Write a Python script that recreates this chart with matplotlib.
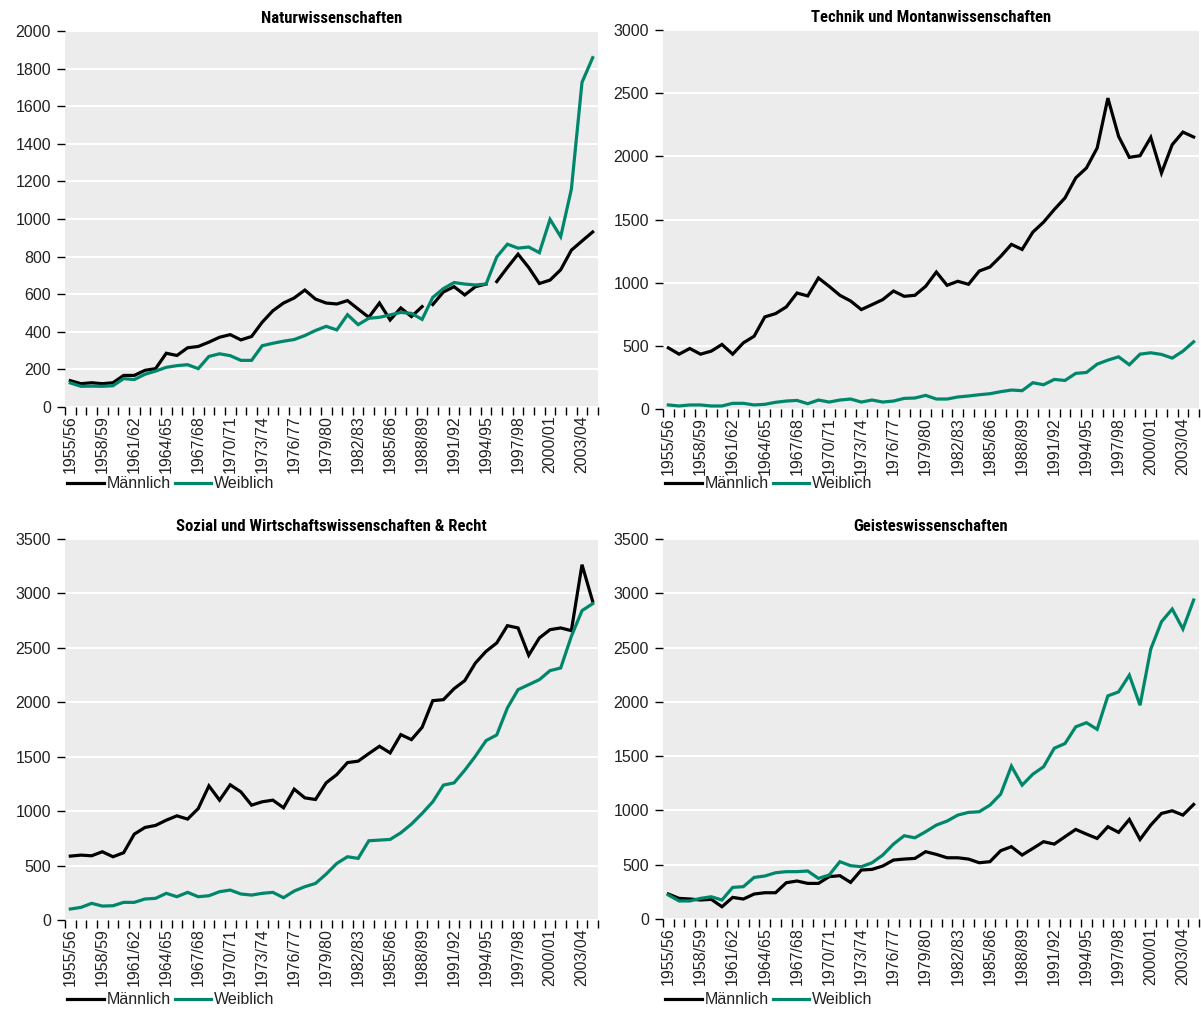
import numpy as np
import matplotlib.pyplot as plt
from matplotlib import font_manager

# Studienabschlüsse nach Studienrichtung und Geschlecht, 1955/56 bis 2004/05
years = [f"{y}/{str(y + 1)[-2:]}" for y in range(1955, 2005)]

nat_m = [140, 124, 129, 124, 129, 168, 168, 195, 204, 286,
         274, 315, 322, 345, 371, 385, 357, 375, 451, 512,
         553, 580, 622, 574, 553, 548, 566, 521, 477, 553,
         463, 527, 481, 534, 545, 612, 640, 596, 640, 654,
         667, 742, 813, 742, 657, 675, 730, 834, 883, 931]
nat_w = [128, 110, 111, 110, 113, 151, 146, 174, 191, 211,
         220, 225, 204, 269, 283, 273, 248, 248, 326, 339,
         350, 359, 380, 407, 429, 410, 491, 438, 472, 477,
         490, 503, 498, 466, 583, 630, 662, 654, 649, 654,
         798, 866, 845, 851, 821, 998, 906, 1158, 1727, 1858]
# Männlich-Reihe ist an zwei Stellen unterbrochen (nach 1988/89 und 1994/95)
nat_m_breaks = [34, 40]

tech_m = [484, 434, 479, 434, 458, 511, 434, 524, 576, 729,
          755, 808, 918, 895, 1037, 971, 900, 855, 787, 826,
          866, 934, 892, 900, 971, 1084, 979, 1011, 987, 1092,
          1124, 1208, 1303, 1263, 1400, 1479, 1579, 1671, 1829, 1908,
          2066, 2461, 2158, 1992, 2005, 2150, 1868, 2092, 2192, 2153]
tech_w = [32, 24, 32, 32, 24, 24, 45, 45, 32, 37,
          53, 63, 68, 42, 71, 55, 71, 79, 55, 71,
          55, 63, 84, 87, 108, 79, 79, 95, 103, 113,
          121, 137, 150, 145, 208, 192, 234, 226, 282, 289,
          355, 387, 413, 350, 434, 445, 432, 403, 458, 532]

soz_m = [587, 596, 590, 627, 581, 618, 789, 850, 869, 917,
         957, 927, 1024, 1232, 1101, 1242, 1177, 1055, 1086, 1101,
         1031, 1202, 1122, 1107, 1260, 1336, 1446, 1459, 1529, 1596,
         1535, 1703, 1657, 1770, 2015, 2024, 2125, 2199, 2361, 2468,
         2545, 2704, 2683, 2432, 2591, 2667, 2683, 2658, 3264, 2927]
soz_w = [101, 116, 153, 128, 131, 162, 162, 193, 199, 245,
         214, 254, 214, 223, 260, 275, 239, 229, 245, 254,
         205, 266, 306, 336, 422, 520, 581, 566, 728, 734,
         740, 801, 881, 979, 1086, 1239, 1260, 1376, 1505, 1648,
         1700, 1948, 2116, 2162, 2208, 2291, 2315, 2606, 2842, 2906]

geist_m = [230, 190, 184, 175, 181, 113, 199, 184, 230, 242,
           242, 334, 350, 328, 328, 390, 399, 337, 451, 457,
           488, 543, 552, 558, 620, 595, 564, 564, 552, 518,
           528, 629, 666, 589, 650, 712, 690, 758, 825, 782,
           742, 850, 798, 917, 733, 865, 972, 997, 957, 1055]
geist_w = [221, 166, 166, 190, 205, 175, 291, 298, 383, 396,
           426, 436, 436, 442, 374, 405, 528, 491, 482, 518,
           589, 690, 767, 748, 804, 865, 902, 957, 982, 988,
           1049, 1150, 1408, 1233, 1334, 1402, 1573, 1616, 1770, 1808,
           1747, 2055, 2092, 2246, 1969, 2486, 2738, 2855, 2671, 2938]

BG = "#ebeceb"
GREEN = "#00876b"
TEXT = "#222222"
FS = 11.5

# schmale Schrift für die Überschriften, falls vorhanden
installed = {f.name for f in font_manager.fontManager.ttflist}
narrow = [n for n in ("Liberation Sans Narrow", "Roboto Condensed",
                      "DejaVu Sans Condensed") if n in installed]
if narrow:
    TITLE_KW = dict(family=[narrow[0], "DejaVu Sans"], fontsize=12)
else:
    TITLE_KW = dict(family=["Liberation Sans", "DejaVu Sans"], fontsize=10)

plt.rcParams["font.family"] = ["Liberation Sans", "DejaVu Sans"]
plt.rcParams["font.size"] = FS

W, H = 1201, 1010
fig = plt.figure(figsize=(W / 100, H / 100), dpi=100)


def px_axes(x0, x1, ytop, ybot):
    return fig.add_axes([x0 / W, 1 - ybot / H, (x1 - x0) / W, (ybot - ytop) / H])


def draw_panel(ax, title, male, female, ymax, ystep, legend_y, breaks=()):
    n = len(years)
    x = np.arange(n)
    ax.set_facecolor(BG)
    for s in ax.spines.values():
        s.set_visible(False)

    pieces = np.split(np.arange(n), list(breaks))
    for k, idx in enumerate(pieces):
        ax.plot(x[idx], np.asarray(male)[idx], color="black", lw=2.3,
                solid_joinstyle="miter", label="Männlich" if k == 0 else None, zorder=3)
    ax.plot(x, female, color=GREEN, lw=2.3, solid_joinstyle="miter",
            label="Weiblich", zorder=3)

    ax.set_xlim(-0.5, n - 0.5)
    ax.set_ylim(0, ymax)
    yt = np.arange(0, ymax + 1, ystep)
    ax.set_yticks(yt)
    ax.set_yticklabels([str(v) for v in yt], color=TEXT)
    ax.yaxis.grid(True, color="white", lw=1.4)
    ax.set_axisbelow(True)
    ax.tick_params(axis="y", length=6, width=1, color="black", pad=4)

    # Teilstriche an den Kategoriegrenzen, Beschriftung jede dritte Kategorie
    ax.set_xticks(np.arange(n + 1) - 0.5, minor=True)
    ax.set_xticks(x[::3])
    ax.set_xticklabels(years[::3], rotation=90, color=TEXT)
    ax.tick_params(axis="x", which="major", length=0, pad=6)
    ax.tick_params(axis="x", which="minor", length=6, width=1, color="black")

    ax.set_title(title, fontweight="bold", pad=6, **TITLE_KW)

    ax.legend(loc="center left", bbox_to_anchor=(ax.get_position().x0 + 0.002, legend_y),
              bbox_transform=fig.transFigure, frameon=False, ncol=2,
              handlelength=2.3, handletextpad=0.15, columnspacing=0.25,
              borderpad=0, borderaxespad=0, fontsize=FS, labelcolor=TEXT)


ax1 = px_axes(65, 598, 31, 407)
draw_panel(ax1, "Naturwissenschaften", nat_m, nat_w, 2000, 200,
           1 - 484 / H, breaks=nat_m_breaks)

ax2 = px_axes(663, 1199, 30, 409)
draw_panel(ax2, "Technik und Montanwissenschaften", tech_m, tech_w, 3000, 500,
           1 - 484 / H)

ax3 = px_axes(65, 598, 539, 920)
draw_panel(ax3, "Sozial und Wirtschaftswissenschaften & Recht", soz_m, soz_w,
           3500, 500, 1 - 1000 / H)

ax4 = px_axes(663, 1199, 539, 919)
draw_panel(ax4, "Geisteswissenschaften", geist_m, geist_w, 3500, 500,
           1 - 1000 / H)

fig.savefig("out.png", dpi=100, facecolor="white")
